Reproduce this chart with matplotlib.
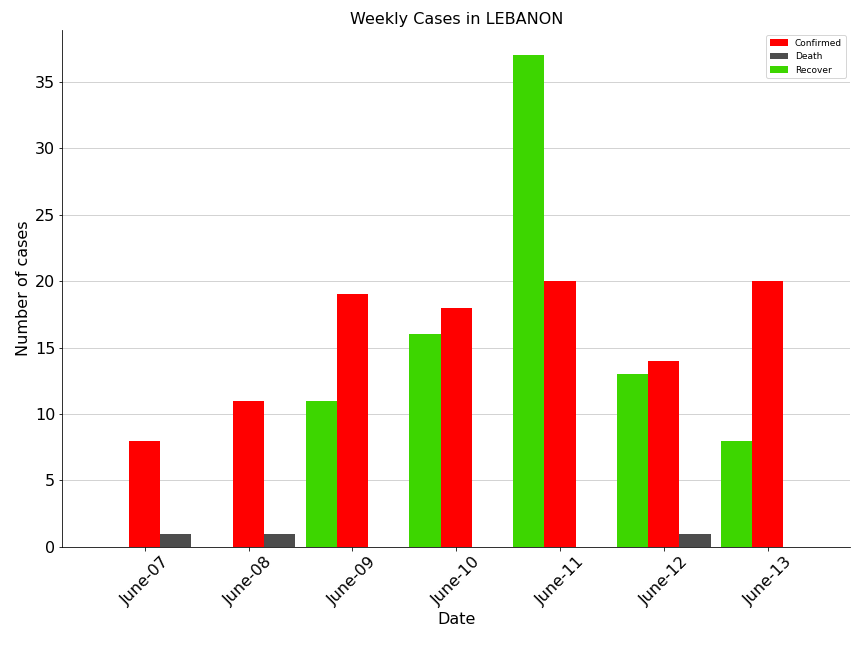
import matplotlib
matplotlib.use("Agg")
import matplotlib.pyplot as plt
import numpy as np

dates = ["June-07","June-08","June-09","June-10","June-11","June-12","June-13"]
confirmed = [8,11,19,18,20,14,20]
death = [1,1,0,0,0,1,0]
recover = [0,0,11,16,37,13,8]

fig, ax = plt.subplots(figsize=(12,9), dpi=72)
fig.subplots_adjust(left=0.072, right=0.984, top=0.953, bottom=0.156)
x = np.arange(len(dates))
w = 0.3
ax.bar(x, confirmed, w, color="#ff0000", label="Confirmed", zorder=3)
ax.bar(x+w, death, w, color="#4d4d4d", label="Death", zorder=3)
ax.bar(x-w, recover, w, color="#3dd600", label="Recover", zorder=3)
ax.set_xticks(x)
ax.set_xticklabels(dates, rotation=45, fontsize=16)
ax.tick_params(axis="y", labelsize=16)
ax.yaxis.grid(True, color="#c8c8c8", zorder=0)
ax.set_axisbelow(True)
for s in ["top","right"]:
    ax.spines[s].set_visible(False)
ax.set_xlabel("Date", fontsize=16)
ax.set_ylabel("Number of cases", fontsize=16)
ax.set_title("Weekly Cases in LEBANON", fontsize=16)
ax.legend(fontsize=9, loc="upper right")
fig.savefig("out.png")
